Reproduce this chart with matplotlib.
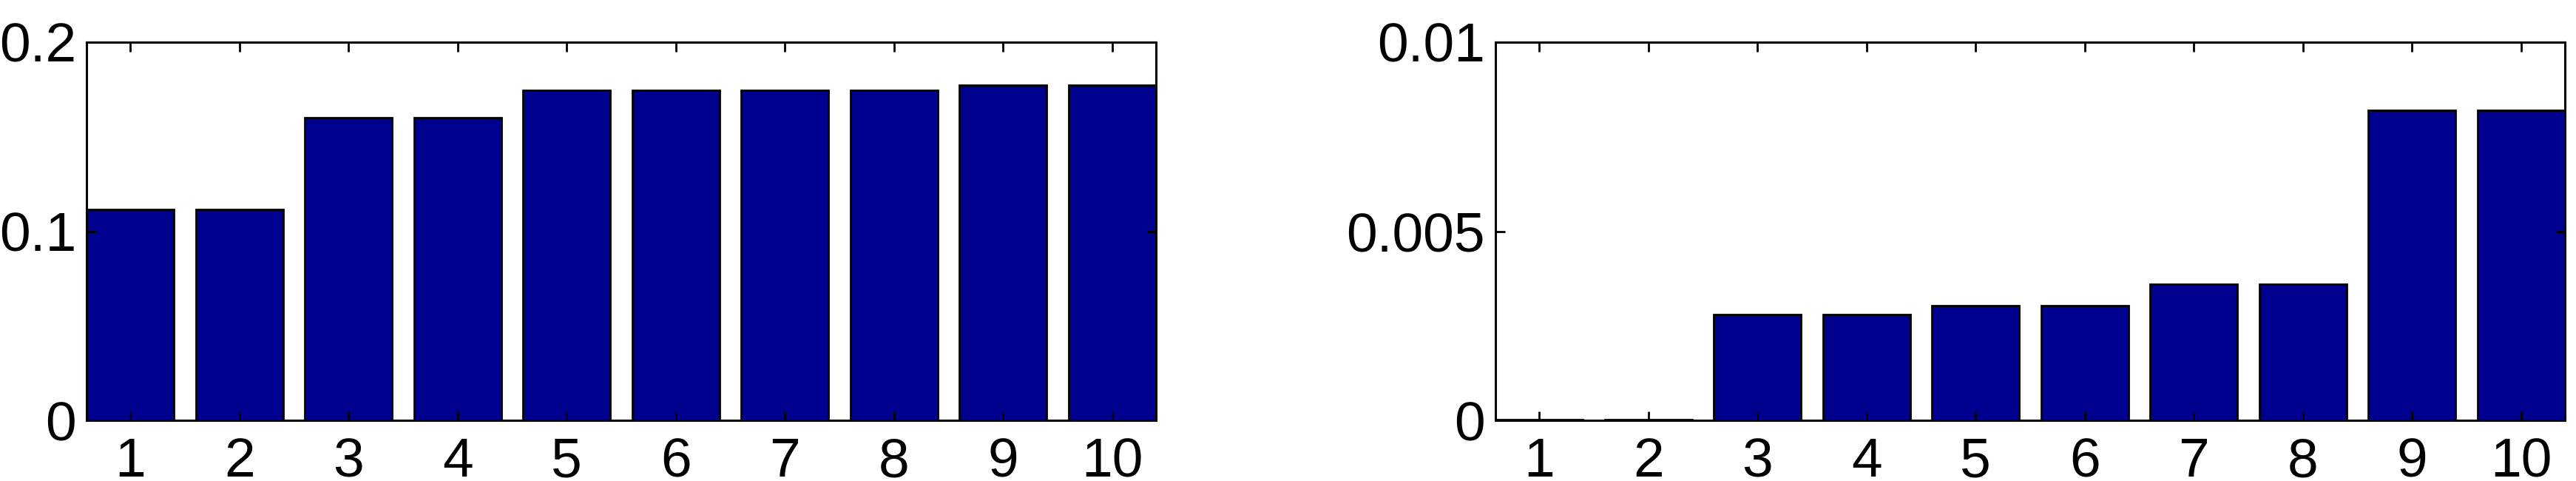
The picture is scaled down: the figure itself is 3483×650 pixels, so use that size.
import matplotlib.pyplot as plt
import numpy as np

plt.rcParams['font.family'] = ['Liberation Sans', 'DejaVu Sans']

idx = [1, 2, 3, 4, 5, 6, 7, 8, 9, 10]
left_vals = [0.1115, 0.1115, 0.1602, 0.1602, 0.1744, 0.1744, 0.1744, 0.1744, 0.1774, 0.1774]
right_vals = [0.00002, 0.00002, 0.0028, 0.0028, 0.00303, 0.00303, 0.0036, 0.0036, 0.00819, 0.00819]

left_yticks = [0, 0.1, 0.2]
left_ylabels = ['0', '0.1', '0.2']
right_yticks = [0, 0.005, 0.01]
right_ylabels = ['0', '0.005', '0.01']

fig = plt.figure(figsize=(34.83, 6.5), dpi=100)
ax1 = fig.add_axes([117 / 3483, 82 / 650, 1446 / 3483, 511 / 650])
ax2 = fig.add_axes([2022 / 3483, 82 / 650, 1446 / 3483, 511 / 650])

panels = [(ax1, left_vals, 0.2, left_yticks, left_ylabels),
          (ax2, right_vals, 0.01, right_yticks, right_ylabels)]

for ax, vals, top, yt, yl in panels:
    ax.bar(idx, vals, width=0.8, color='#00008F', edgecolor='black', linewidth=2.0)
    ax.set_xlim(0.6, 10.4)
    ax.set_ylim(0, top)
    ax.set_xticks(idx)
    ax.set_xticklabels([str(i) for i in idx])
    ax.set_yticks(yt)
    ax.set_yticklabels(yl)
    ax.tick_params(direction='in', length=9, width=2, top=True, right=True,
                   labelsize=54)
    ax.tick_params(axis='x', pad=16)
    ax.tick_params(axis='y', pad=10)
    for s in ax.spines.values():
        s.set_linewidth(2.2)

fig.savefig('out.png', dpi=100)
